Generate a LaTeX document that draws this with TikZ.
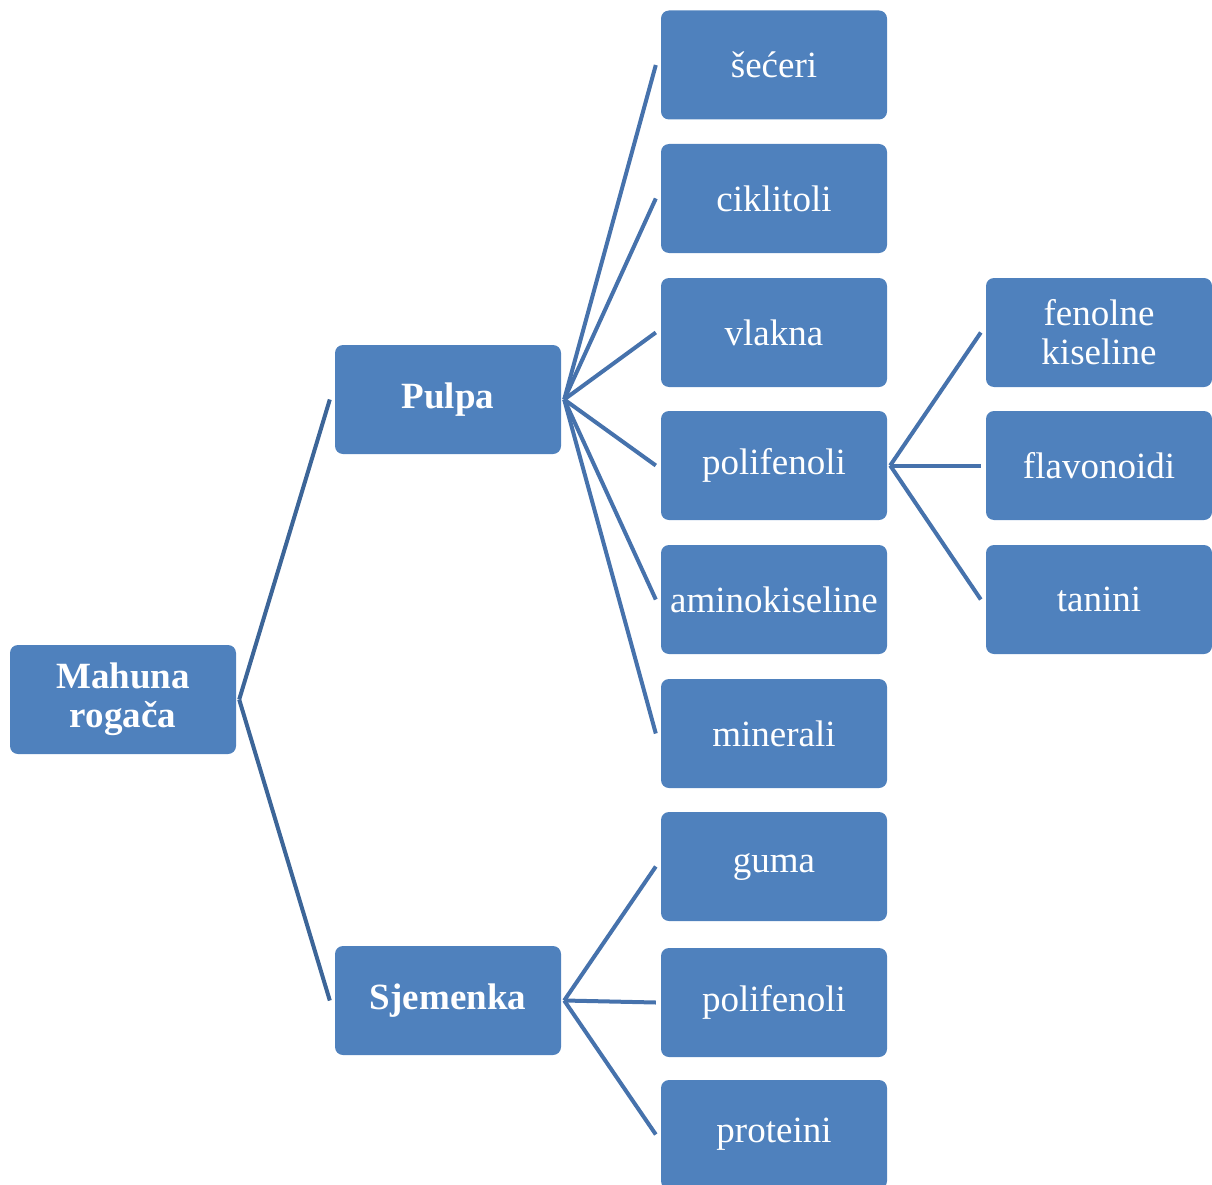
\documentclass[tikz,border=0pt]{standalone}
\usepackage{fontspec}
\setmainfont{Liberation Serif}
\definecolor{boxblue}{HTML}{4F81BD}
\definecolor{linkblue}{HTML}{4672AC}
\definecolor{rootlink}{HTML}{3C6598}

\begin{document}
\begin{tikzpicture}[x=1pt,y=-1pt,
	box/.style={fill=boxblue, rounded corners=8pt, minimum width=226pt, minimum height=109pt,
		text=white, align=center, inner sep=0pt, font=\fontsize{37}{39}\selectfont},
	link/.style={draw=linkblue, line width=4pt},
	rootlinks/.style={draw=rootlink, line width=4pt}]
	\useasboundingbox (0,0) rectangle (1212,1185);
	\node[box, font=\fontsize{37}{39}\selectfont\bfseries] (mahuna) at (123,699.5) {Mahuna\\rogača};
	\node[box, font=\fontsize{37}{39}\selectfont\bfseries] (pulpa) at (448,399.5) {Pulpa};
	\node[box, font=\fontsize{37}{39}\selectfont\bfseries] (sjemenka) at (448,1000.5) {Sjemenka};
	\node[box] (seceri) at (774,65) {šećeri};
	\node[box] (ciklitoli) at (774,198.5) {ciklitoli};
	\node[box] (vlakna) at (774,332.5) {vlakna};
	\node[box] (polifenoli) at (774,465.5) {polifenoli};
	\node[box] (amino) at (774,599.5) {aminokiseline};
	\node[box] (minerali) at (774,733.5) {minerali};
	\node[box] (guma) at (774,866.5) {guma};
	\node[box] (polifenolis) at (774,1002.5) {polifenoli};
	\node[box] (proteini) at (774,1134.5) {proteini};
	\node[box] (fenolne) at (1099,332.5) {fenolne\\kiseline};
	\node[box] (flavonoidi) at (1099,465.5) {flavonoidi};
	\node[box] (tanini) at (1099,599.5) {tanini};
	\foreach \c in {pulpa,sjemenka}
		\draw[rootlinks] ([xshift=3pt]mahuna.east) -- ([xshift=-5pt]\c.west);
	\foreach \c in {seceri,ciklitoli,vlakna,polifenoli,amino,minerali}
		\draw[link] ([xshift=3pt]pulpa.east) -- ([xshift=-5pt]\c.west);
	\foreach \c in {guma,polifenolis,proteini}
		\draw[link] ([xshift=3pt]sjemenka.east) -- ([xshift=-5pt]\c.west);
	\foreach \c in {fenolne,flavonoidi,tanini}
		\draw[link] ([xshift=3pt]polifenoli.east) -- ([xshift=-5pt]\c.west);
\end{tikzpicture}
\end{document}
